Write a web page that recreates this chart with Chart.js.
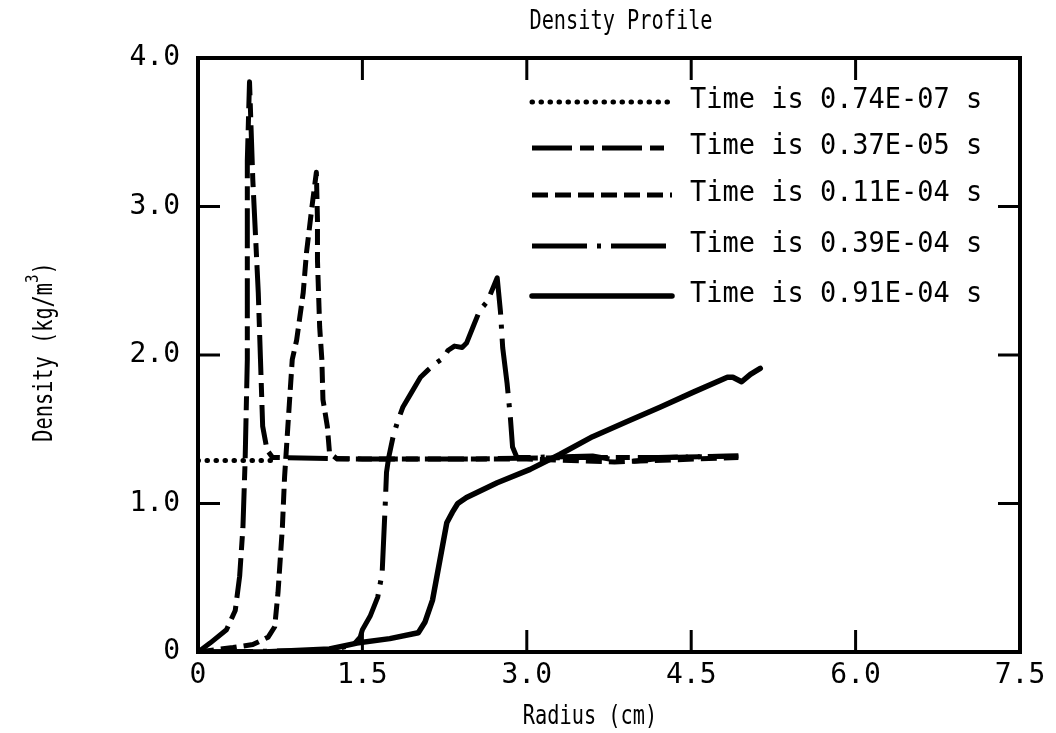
<!DOCTYPE html>
<html>
<head>
<meta charset="utf-8">
<script src="https://cdn.jsdelivr.net/npm/chart.js@4.4.1/dist/chart.umd.min.js"></script>
<style>
  html, body { margin: 0; padding: 0; background: #fff; }
</style>
</head>
<body>
<canvas id="density" width="1056" height="733"></canvas>
<script>
// radius (cm) / density (kg/m^3)
const r1 = [0, 0.72];
const d1 = [1.29, 1.29];

const r2 = [0, 0.11, 0.26, 0.34, 0.38, 0.41, 0.43, 0.45, 0.45, 0.47, 0.50, 0.55, 0.57, 0.59, 0.63, 0.68, 1.5, 2.5, 3.5, 4.2, 4.93];
const d2 = [0, 0.06, 0.15, 0.28, 0.51, 0.84, 1.29, 1.97, 3.31, 3.84, 3.18, 2.42, 1.97, 1.52, 1.36, 1.31, 1.30, 1.30, 1.31, 1.31, 1.32];

const r3 = [0, 0.32, 0.50, 0.64, 0.70, 0.73, 0.77, 0.79, 0.82, 0.86, 0.90, 0.96, 0.99, 1.04, 1.08, 1.09, 1.09, 1.11, 1.13, 1.14, 1.18, 1.20, 1.27, 2.0, 3.0, 3.8, 4.93];
const d3 = [0, 0.03, 0.05, 0.10, 0.17, 0.40, 0.84, 1.18, 1.52, 1.97, 2.10, 2.42, 2.69, 3.00, 3.23, 2.91, 2.64, 2.19, 1.97, 1.70, 1.52, 1.34, 1.30, 1.30, 1.30, 1.28, 1.31];

const r4 = [0, 1.2, 1.42, 1.48, 1.50, 1.57, 1.64, 1.68, 1.71, 1.72, 1.74, 1.78, 1.82, 1.87, 1.95, 2.03, 2.10, 2.18, 2.24, 2.28, 2.34, 2.41, 2.45, 2.51, 2.57, 2.64, 2.73, 2.76, 2.78, 2.82, 2.85, 2.87, 2.91, 3.03, 3.6, 3.9, 4.3, 4.93];
const d4 = [0, 0.01, 0.05, 0.10, 0.15, 0.24, 0.37, 0.53, 1.02, 1.21, 1.31, 1.45, 1.55, 1.65, 1.75, 1.85, 1.90, 1.95, 1.98, 2.03, 2.06, 2.05, 2.08, 2.19, 2.30, 2.36, 2.52, 2.29, 2.05, 1.81, 1.58, 1.38, 1.31, 1.31, 1.32, 1.28, 1.31, 1.32];

const r5 = [0, 0.6, 1.20, 1.45, 1.75, 2.01, 2.07, 2.14, 2.18, 2.23, 2.27, 2.32, 2.37, 2.45, 2.73, 3.03, 3.30, 3.60, 3.91, 4.22, 4.52, 4.83, 4.88, 4.96, 5.04, 5.13];
const d5 = [0, 0.0, 0.02, 0.06, 0.09, 0.13, 0.20, 0.35, 0.51, 0.71, 0.87, 0.94, 1.00, 1.04, 1.14, 1.23, 1.33, 1.45, 1.55, 1.65, 1.75, 1.85, 1.85, 1.82, 1.87, 1.91];

const seriesLabels = [
  "Time is 0.74E-07 s",
  "Time is 0.37E-05 s",
  "Time is 0.11E-04 s",
  "Time is 0.39E-04 s",
  "Time is 0.91E-04 s"
];

const xTickMarks = [1.5, 3.0, 4.5, 6.0];
const yTickMarks = [1, 2, 3];

const FONT = "'DejaVu Sans Mono', 'Liberation Mono', monospace";

function pts(xs, ys) {
  return xs.map((x, i) => ({ x, y: ys[i] }));
}

const lineStyles = [
  { borderDash: [0.5, 8.5], borderCapStyle: 'round', borderWidth: 5 },
  { borderDash: [40, 8, 14, 8], borderCapStyle: 'butt', borderWidth: 5 },
  { borderDash: [16, 7], borderCapStyle: 'butt', borderWidth: 5 },
  { borderDash: [55, 10, 4, 10], borderCapStyle: 'butt', borderWidth: 5 },
  { borderDash: [], borderCapStyle: 'round', borderWidth: 5.5 }
];

const allData = [pts(r1, d1), pts(r2, d2), pts(r3, d3), pts(r4, d4), pts(r5, d5)];

const datasets = allData.map((data, i) => ({
  label: seriesLabels[i],
  data,
  showLine: true,
  pointRadius: 0,
  borderColor: '#000',
  borderJoinStyle: 'round',
  tension: 0,
  ...lineStyles[i]
}));

// narrow, tall typewriter-ish text
function narrowText(ctx, text, x, y, size, squeeze) {
  ctx.save();
  ctx.translate(x, y);
  ctx.scale(squeeze, 1);
  ctx.font = size + "px " + FONT;
  ctx.fillText(text, 0, 0);
  ctx.restore();
}

/* ---- frame, inward ticks, titles, legend ---- */
const decorPlugin = {
  id: 'decor',
  afterDatasetsDraw(chart) {
    const { ctx, chartArea: a, scales: { x, y } } = chart;
    ctx.save();
    ctx.strokeStyle = '#000';
    ctx.setLineDash([]);
    ctx.lineWidth = 4;
    ctx.strokeRect(a.left, a.top, a.right - a.left, a.bottom - a.top);

    ctx.lineWidth = 3;
    ctx.beginPath();
    yTickMarks.forEach(v => {
      const py = y.getPixelForValue(v);
      ctx.moveTo(a.left, py); ctx.lineTo(a.left + 22, py);
      ctx.moveTo(a.right, py); ctx.lineTo(a.right - 22, py);
    });
    xTickMarks.forEach(v => {
      const px = x.getPixelForValue(v);
      ctx.moveTo(px, a.top); ctx.lineTo(px, a.top + 22);
      ctx.moveTo(px, a.bottom); ctx.lineTo(px, a.bottom - 22);
    });
    ctx.stroke();

    // legend
    const rowY = [102, 148, 195, 246, 296];
    chart.data.datasets.forEach((ds, i) => {
      ctx.beginPath();
      ctx.lineWidth = ds.borderWidth;
      ctx.lineCap = ds.borderCapStyle;
      ctx.setLineDash(ds.borderDash);
      ctx.moveTo(532, rowY[i]);
      ctx.lineTo(672, rowY[i]);
      ctx.stroke();
    });
    ctx.setLineDash([]);
    ctx.fillStyle = '#000';
    ctx.textBaseline = 'middle';
    ctx.textAlign = 'left';
    seriesLabels.forEach((t, i) => narrowText(ctx, t, 690, rowY[i] - 2, 29, 0.93));

    // titles
    ctx.textAlign = 'center';
    narrowText(ctx, "Density Profile", 621, 22, 26, 0.78);
    narrowText(ctx, "Radius (cm)", 590, 717, 26, 0.78);

    // y title with superscript
    ctx.translate(45, 352);
    ctx.rotate(-Math.PI / 2);
    ctx.scale(0.78, 1);
    const main = "Density (kg/m";
    const sup = "3";
    const close = ")";
    ctx.font = "26px " + FONT;
    const wMain = ctx.measureText(main).width;
    const wClose = ctx.measureText(close).width;
    ctx.font = "18px " + FONT;
    const wSup = ctx.measureText(sup).width;
    let sx = -(wMain + wSup + wClose) / 2;
    ctx.textAlign = 'left';
    ctx.font = "26px " + FONT;
    ctx.fillText(main, sx, 0);
    sx += wMain;
    ctx.font = "18px " + FONT;
    ctx.fillText(sup, sx, -12);
    sx += wSup;
    ctx.font = "26px " + FONT;
    ctx.fillText(close, sx, 0);
    ctx.restore();
  }
};

new Chart(document.getElementById('density'), {
  type: 'scatter',
  data: { datasets },
  options: {
    responsive: false,
    animation: false,
    layout: { padding: { top: 58, right: 36, left: 0, bottom: 0 } },
    plugins: {
      legend: { display: false },
      tooltip: { enabled: false },
      title: { display: false }
    },
    scales: {
      x: {
        type: 'linear',
        min: 0,
        max: 7.5,
        grid: { display: false, drawTicks: false },
        border: { display: false },
        ticks: {
          stepSize: 1.5,
          color: '#000',
          padding: 7,
          maxRotation: 0,
          font: { family: FONT, size: 28 },
          callback: v => v === 0 ? '0' : v.toFixed(1)
        },
        afterFit(s) { s.height = 81; }
      },
      y: {
        min: 0,
        max: 4,
        grid: { display: false, drawTicks: false },
        border: { display: false },
        ticks: {
          stepSize: 1,
          color: '#000',
          padding: 18,
          font: { family: FONT, size: 28 },
          callback: v => v === 0 ? '0' : v.toFixed(1)
        },
        afterFit(s) { s.width = 198; }
      }
    }
  },
  plugins: [decorPlugin]
});
</script>
</body>
</html>
